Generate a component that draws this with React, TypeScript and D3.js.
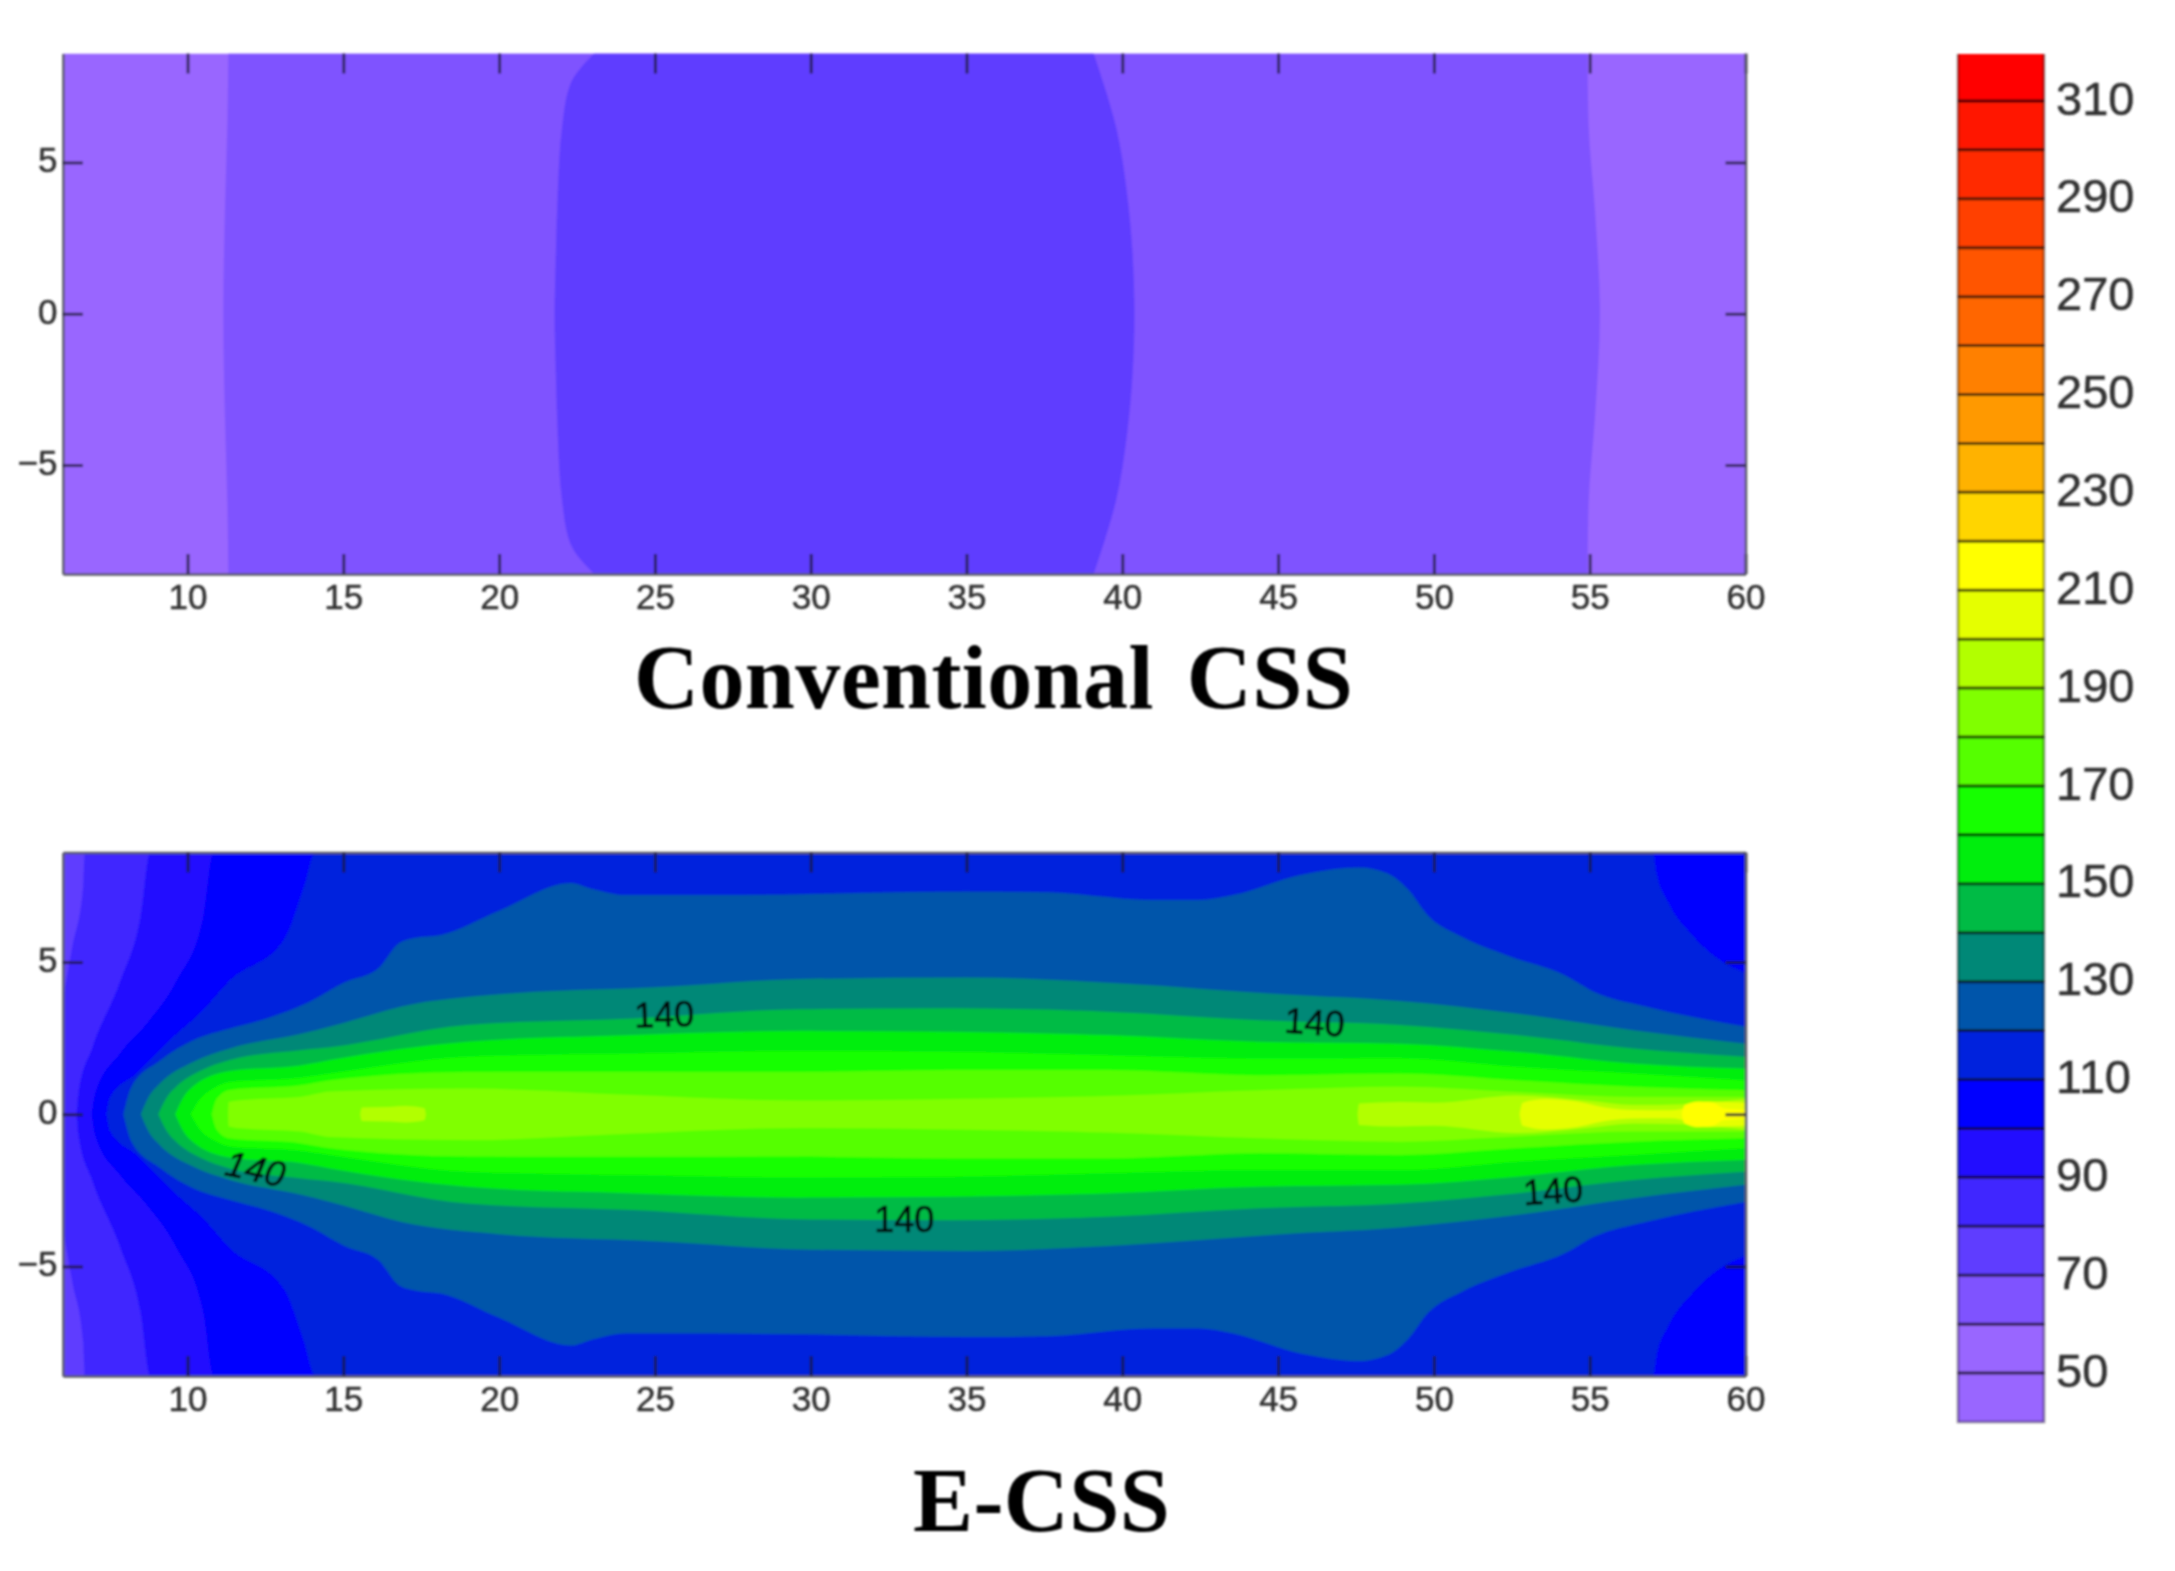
import { useEffect, useRef } from 'react'
import * as d3 from 'd3'

const W = 2175
const H = 1571

// colour bar
const barLevels = d3.range(50, 320, 10)
const barColors = [
  '#9966ff', '#9966ff', '#7f52ff', '#5f3dff', '#4026ff', '#2010ff', '#0000ff', '#0022dd', '#0055aa', '#008877',
  '#00bb44', '#00ee11', '#19ff00', '#55ff00', '#80ff00', '#b2ff00', '#e5ff00', '#ffff00', '#ffd500', '#ffb200',
  '#ff9900', '#ff8000', '#ff6600', '#ff5500', '#ff4000', '#ff2b00', '#ff1500', '#ff0000',
]
const barLabels = d3.range(50, 320, 20)

const xTicks = [10, 15, 20, 25, 30, 35, 40, 45, 50, 55, 60]
const yTicks = [5, 0, -5]
const xDomain: [number, number] = [6, 60]
const yDomain: [number, number] = [-8.6, 8.6]

// Conventional CSS: [y, left x, right x], lower half is the mirror
const conv60 = [[8.6, 11.31, 54.93], [6.35, 11.28, 54.96], [3.4, 11.2, 55.17], [0, 11.15, 55.33]]
const conv70 = [[8.6, 23.05, 39.08], [7.6, 22.29, 39.4], [6.17, 22.02, 39.8], [4, 21.88, 40.15], [2, 21.82, 40.33], [0, 21.78, 40.39]]

// E-CSS: [x, half width of the contour]
const ecss80 = [[6, 3.8], [6.3, 5.5], [6.65, 7.5], [6.7, 8.6], [60, 8.6]]
const ecss90 = [[6.44, 0], [6.5, 0.7], [6.95, 2.2], [7.85, 4.4], [8.49, 6.5], [8.8, 8.6], [60, 8.6]]
const ecss100 = [[6.92, 0], [7.03, 0.68], [7.83, 2], [8.69, 2.98], [9.65, 4.4], [10.5, 6.5], [10.83, 8.6], [60, 8.6]]
const ecss110 = [[7.4, 0], [7.51, 0.55], [8.37, 1.34], [9.54, 2.54], [10.5, 3.42], [11.36, 4.4], [13.1, 5.75], [13.74, 7.48], [14.1, 8.6], [57.03, 8.6], [57.15, 7.9], [57.5, 7], [58.28, 5.9], [59, 5.2], [60, 4.65]]
const ecss120 = [[7.94, 0], [8.2, 0.9], [9.1, 1.75], [10.18, 2.43], [11.36, 2.82], [12.54, 3.15], [13.92, 3.7], [15.03, 4.33], [16.13, 4.8], [16.78, 5.62], [17.24, 5.78], [18.16, 5.9], [20, 6.69], [22.3, 7.6], [23, 7.4], [24.05, 7.2], [27, 7.2], [30, 7.24], [35, 7.32], [37.65, 7.29], [40.97, 7.04], [42.44, 7.04], [43.55, 7.2], [45.75, 7.87], [47.6, 8.11], [48.5, 7.92], [49.16, 7.4], [49.8, 6.54], [50.9, 5.83], [52.4, 5.2], [54.2, 4.57], [55.15, 4.02], [56.8, 3.54], [60, 2.88]]
const ecss130 = [[8.5, 0], [8.74, 0.55], [9.1, 1], [10.18, 1.72], [11.36, 2.16], [13.68, 2.65], [15, 3], [16.87, 3.54], [20, 3.94], [25, 4.17], [30, 4.45], [35, 4.49], [40, 4.3], [45, 3.95], [48.9, 3.72], [52.65, 3.31], [56.4, 2.76], [60, 2.32]]
const ecss140 = [[9.06, 0], [9.33, 0.55], [9.65, 0.92], [10.4, 1.42], [11.36, 1.78], [13.61, 2.1], [14.57, 2.2], [18.96, 2.93], [24.3, 3.15], [29.65, 3.45], [34.56, 3.48], [39.5, 3.37], [44.4, 3.09], [48.9, 2.93], [52.65, 2.6], [56.4, 2.16], [60, 1.89]]
const ecss150 = [[9.6, 0], [9.86, 0.55], [10.18, 0.92], [11.36, 1.42], [13.61, 1.6], [14.57, 1.78], [18.96, 2.38], [24.3, 2.6], [29.65, 2.74], [34.56, 2.71], [39.5, 2.6], [44.4, 2.38], [48.9, 2.32], [52.65, 2.05], [56.4, 1.67], [60, 1.5]]
const ecss160 = [[10.1, 0], [10.4, 0.5], [10.83, 0.85], [11.36, 1.06], [13.61, 1.2], [14.57, 1.34], [18.96, 1.89], [24.3, 2], [29.65, 2.08], [34.56, 2.05], [39.5, 1.94], [44.4, 1.83], [48.9, 1.84], [52.65, 1.56], [56.4, 1.34], [60, 1.12]]
const ecss170 = [[10.78, 0], [10.93, 0.5], [11.36, 0.8], [13.61, 0.95], [14.57, 1.12], [18.96, 1.39], [24.3, 1.4], [29.65, 1.39], [34.56, 1.45], [39.5, 1.45], [44.4, 1.28], [48.9, 1.34], [52.65, 1.12], [56.4, 0.9], [60, 0.79]]
const ecss180 = [[11.3, 0], [11.32, 0.4], [11.8, 0.47], [13.61, 0.57], [14.57, 0.75], [18.96, 0.85], [24.3, 0.63], [29.65, 0.45], [34.56, 0.5], [39.5, 0.6], [44.4, 0.79], [48.9, 0.9], [52.65, 0.73], [56.4, 0.57], [60, 0.57]]
const ecss190a = [[15.54, 0], [15.6, 0.22], [16.5, 0.24], [17, 0.27], [17.6, 0.2], [17.65, 0]]
const ecss190b = [[47.55, 0], [47.6, 0.35], [48.9, 0.4], [50, 0.38], [52.65, 0.62], [54.9, 0.45], [56.4, 0.3], [58, 0.33], [60, 0.5]]
const ecss200 = [[52.75, 0], [52.85, 0.38], [53.6, 0.5], [54.6, 0.42], [55.5, 0.22], [56.4, 0.14], [57.6, 0.13], [58.2, 0.25], [58.8, 0.42], [60, 0.38]]
const ecss210 = [[57.95, 0], [58.05, 0.3], [58.5, 0.42], [58.95, 0.38], [59.3, 0.2], [60, 0.15]]

const ecssContours: [number, number[][]][] = [
  [80, ecss80], [90, ecss90], [100, ecss100], [110, ecss110], [120, ecss120], [130, ecss130], [140, ecss140],
  [150, ecss150], [160, ecss160], [170, ecss170], [180, ecss180], [190, ecss190a], [190, ecss190b], [200, ecss200], [210, ecss210],
]

// contour labels: [x, y, rotation]
const contourLabels = [[25.29, 3.3, -2], [12.18, -1.78, 12], [46.17, 3.04, 4], [53.82, -2.5, -4], [33, -3.45, 0]]

const plotX = [62.9, 1745.5]
const plot1Y = [574, 53.5]
const plot2Y = [1376, 852.5]
const barX = [1958, 2044]
const barY = [1422, 52]
const barTop = 54

const SANS = '"Liberation Sans", Arial, sans-serif'

export default function App() {
  const svgRef = useRef<SVGSVGElement>(null)

  useEffect(() => {
    const svg = svgRef.current
    if (!svg) return
    const sel = d3.select(svg)
    sel.selectAll('*').remove()

    const colorOf = d3.scaleThreshold<number, string>().domain(barLevels).range(barColors)

    // slight softening, the source is a resampled bitmap
    sel.append('defs').append('filter').attr('id', 'soft')
      .append('feGaussianBlur').attr('stdDeviation', 0.9)
    const root = sel.append('g').attr('filter', 'url(#soft)')

    const x = d3.scaleLinear().domain(xDomain).range(plotX)

    const panel = (name: string, rangeY: number[], base: number, draw: (g: any, y: d3.ScaleLinear<number, number>) => void) => {
      const y = d3.scaleLinear().domain(yDomain).range(rangeY)
      sel.select('defs').append('clipPath').attr('id', `clip-${name}`)
        .append('rect')
        .attr('x', plotX[0]).attr('y', rangeY[1])
        .attr('width', plotX[1] - plotX[0]).attr('height', rangeY[0] - rangeY[1])

      const g = root.append('g').attr('clip-path', `url(#clip-${name})`)
      g.append('rect')
        .attr('x', plotX[0]).attr('y', rangeY[1])
        .attr('width', plotX[1] - plotX[0]).attr('height', rangeY[0] - rangeY[1])
        .attr('fill', colorOf(base))
      draw(g, y)

      const styleAxis = (ag: any) => {
        ag.select('.domain').attr('stroke', '#5a5a66').attr('stroke-width', 2.5)
        ag.selectAll('.tick line').attr('stroke', '#1e1a3a').attr('stroke-width', 3).attr('stroke-opacity', 0.8)
        ag.selectAll('text')
          .attr('fill', '#333').attr('stroke', '#333').attr('stroke-width', 0.5)
          .attr('font-size', 35).attr('font-family', SANS)
      }
      const fmt = (d: any) => (d < 0 ? `\u2212${-d}` : `${d}`)

      root.append('g').attr('transform', `translate(0,${rangeY[0]})`)
        .call(d3.axisBottom(x).tickValues(xTicks).tickSizeInner(-20).tickSizeOuter(0).tickPadding(10.5))
        .call(styleAxis)
      root.append('g').attr('transform', `translate(0,${rangeY[1]})`)
        .call(d3.axisTop(x).tickValues(xTicks).tickSizeInner(-20).tickSizeOuter(0).tickFormat(() => ''))
        .call(styleAxis)
        // the upper panel has no visible top rule
        .call(ag => ag.select('.domain').attr('stroke-opacity', name === 'conv' ? 0 : 1))
      root.append('g').attr('transform', `translate(${plotX[0]},0)`)
        .call(d3.axisLeft(y).tickValues(yTicks).tickSizeInner(-20).tickSizeOuter(0).tickPadding(5.5).tickFormat(fmt))
        .call(styleAxis)
        .call(ag => ag.selectAll('text').attr('dy', '0.27em'))
      root.append('g').attr('transform', `translate(${plotX[1]},0)`)
        .call(d3.axisRight(y).tickValues(yTicks).tickSizeInner(-20).tickSizeOuter(0).tickFormat(() => ''))
        .call(styleAxis)
    }

    // Conventional CSS
    panel('conv', plot1Y, 50, (g, y) => {
      const area = d3.area<number[]>()
        .curve(d3.curveMonotoneY)
        .y(d => y(d[0])).x0(d => x(d[1])).x1(d => x(d[2]))
      const mirror = (rows: number[][]) => [...rows, ...rows.slice(0, -1).reverse().map(r => [-r[0], r[1], r[2]])]
      ;([[60, conv60], [70, conv70]] as [number, number[][]][]).forEach(([level, rows]) => {
        g.append('path').attr('d', area(mirror(rows))).attr('fill', colorOf(level))
      })
    })

    // E-CSS
    panel('ecss', plot2Y, 70, (g, y) => {
      const area = d3.area<number[]>()
        .curve(d3.curveMonotoneX)
        .x(d => x(d[0])).y0(d => y(-d[1])).y1(d => y(d[1]))
      ecssContours.forEach(([level, pts]) => {
        g.append('path').attr('d', area(pts)).attr('fill', colorOf(level))
      })
      contourLabels.forEach(([lx, ly, rot], i) => {
        g.append('text')
          .attr('transform', `translate(${x(lx)},${y(ly)}) rotate(${rot})`)
          .attr('text-anchor', 'middle').attr('dy', '0.36em')
          .attr('font-family', SANS)
          .attr('font-size', 36)
          .attr('font-style', i === 1 ? 'italic' : 'normal')
          .attr('fill', '#061010').attr('stroke', '#061010').attr('stroke-width', 0.7)
          .text('140')
      })
    })

    // titles
    const title = (txt: string, tx: number, ty: number) =>
      root.append('text')
        .attr('x', tx).attr('y', ty)
        .attr('font-family', '"Liberation Serif", "Times New Roman", serif')
        .attr('font-weight', 700).attr('font-size', 90)
        .attr('word-spacing', 10).attr('letter-spacing', 0.4)
        .attr('fill', '#000')
        .text(txt)
    title('Conventional CSS', 634, 708)
    title('E-CSS', 913, 1531)

    // colour bar
    const barScale = d3.scaleLinear().domain([40, 320]).range(barY)
    const bar = root.append('g')
    barColors.forEach((c, i) => {
      const lo = 40 + i * 10
      const top = Math.max(barScale(lo + 10), barTop)
      bar.append('rect')
        .attr('x', barX[0]).attr('width', barX[1] - barX[0])
        .attr('y', top).attr('height', barScale(lo) - top)
        .attr('fill', c)
    })
    barLevels.forEach(l => {
      bar.append('line')
        .attr('x1', barX[0]).attr('x2', barX[1])
        .attr('y1', barScale(l)).attr('y2', barScale(l))
        .attr('stroke', '#000').attr('stroke-opacity', 0.7).attr('stroke-width', 3)
    })
    // side and bottom rules only, the top of the bar is cut off
    bar.append('path')
      .attr('d', d3.line()([[barX[0], barTop], [barX[0], barY[0]], [barX[1], barY[0]], [barX[1], barTop]]))
      .attr('fill', 'none').attr('stroke', '#000').attr('stroke-opacity', 0.45).attr('stroke-width', 2.5)
    root.append('g').attr('transform', `translate(${barX[1]},0)`)
      .call(d3.axisRight(barScale).tickValues(barLabels).tickSize(0).tickPadding(12))
      .call(ag => {
        ag.select('.domain').remove()
        ag.selectAll('text')
          .attr('dy', '0.28em')
          .attr('fill', '#333').attr('stroke', '#333').attr('stroke-width', 0.5)
          .attr('font-size', 47).attr('font-family', SANS)
      })
  }, [])

  return (
    <svg
      ref={svgRef}
      width={W}
      height={H}
      viewBox={`0 0 ${W} ${H}`}
      style={{ position: 'absolute', left: 0, top: 0, background: '#fff', display: 'block' }}
    />
  )
}
